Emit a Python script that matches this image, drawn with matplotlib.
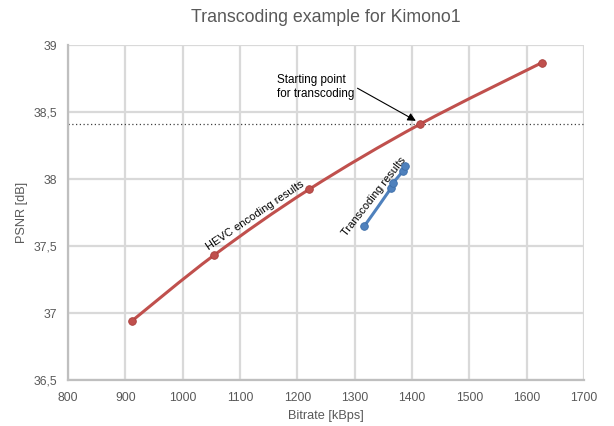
import numpy as np
import matplotlib.pyplot as plt
from matplotlib.path import Path
from matplotlib.patches import PathPatch
from matplotlib.ticker import FuncFormatter, MultipleLocator

plt.rcParams['font.family'] = ['Liberation Sans', 'DejaVu Sans']

# HEVC encoding points (bitrate kBps, PSNR dB)
hevc_rate = [911, 1054, 1221, 1414, 1627]
hevc_psnr = [36.94, 37.43, 37.925, 38.41, 38.87]

# Transcoding points
trans_rate = [1317, 1363, 1367, 1384, 1388]
trans_psnr = [37.65, 37.93, 37.97, 38.06, 38.10]

start_psnr = 38.41

red = '#c0504d'
blue = '#4f81bd'
gray = '#595959'


def smooth_path(xs, ys, t=1/6):
    # Excel-like smoothed line: Catmull-Rom segments as cubic Bezier
    pts = np.column_stack([xs, ys]).astype(float)
    verts = [pts[0]]
    codes = [Path.MOVETO]
    n = len(pts)
    for i in range(n - 1):
        p0 = pts[max(i - 1, 0)]
        p1 = pts[i]
        p2 = pts[i + 1]
        p3 = pts[min(i + 2, n - 1)]
        c1 = p1 + (p2 - p0) * t
        c2 = p2 - (p3 - p1) * t
        verts += [c1, c2, p2]
        codes += [Path.CURVE4] * 3
    return Path(verts, codes)


fig = plt.figure(figsize=(6.14, 4.26), dpi=100)
ax = fig.add_axes([0.111, 0.108, 0.84, 0.786])

ax.axhline(start_psnr, color='#404040', linestyle=(0, (1, 2)), linewidth=0.9, zorder=2)

ax.add_patch(PathPatch(smooth_path(hevc_rate, hevc_psnr), facecolor='none',
                       edgecolor=red, linewidth=2.2, zorder=3))
ax.plot(hevc_rate, hevc_psnr, 'o', color=red, markersize=5.5,
        markeredgecolor='#a83f3c', markeredgewidth=0.6, zorder=4)

ax.add_patch(PathPatch(smooth_path(trans_rate, trans_psnr), facecolor='none',
                       edgecolor=blue, linewidth=2.2, zorder=3))
ax.plot(trans_rate, trans_psnr, 'o', color=blue, markersize=5.5,
        markeredgecolor='#3c6da8', markeredgewidth=0.6, zorder=4)

ax.set_xlim(800, 1700)
ax.set_ylim(36.5, 39)
ax.xaxis.set_major_locator(MultipleLocator(100))
ax.yaxis.set_major_locator(MultipleLocator(0.5))
ax.yaxis.set_major_formatter(FuncFormatter(lambda v, p: f'{v:g}'.replace('.', ',')))

ax.grid(True, color='#d9d9d9', linewidth=1.6, zorder=0)
ax.set_axisbelow(True)
for s in ['top', 'right']:
    ax.spines[s].set_visible(False)
for s in ['left', 'bottom']:
    ax.spines[s].set_color('#bfbfbf')
    ax.spines[s].set_linewidth(1.6)
ax.tick_params(axis='x', length=0, labelsize=8.8, labelcolor=gray, pad=9)
ax.tick_params(axis='y', length=0, labelsize=8.8, labelcolor=gray, pad=8)

ax.set_xlabel('Bitrate [kBps]', fontsize=9.2, color=gray, labelpad=4)
ax.set_ylabel('PSNR [dB]', fontsize=9.2, color=gray, labelpad=4)
ax.set_title('Transcoding example for Kimono1', fontsize=12.8, color=gray, pad=17)

ax.text(1127, 37.73, 'HEVC encoding results', fontsize=8, rotation=34,
        ha='center', va='center', rotation_mode='anchor')
ax.text(1334, 37.87, 'Transcoding results', fontsize=8, rotation=52,
        ha='center', va='center', rotation_mode='anchor')
ax.annotate('Starting point\nfor transcoding', xy=(1411, 38.425), xytext=(1165, 38.69),
            fontsize=8.4, ha='left', va='center', linespacing=1.25,
            arrowprops=dict(arrowstyle='-|>', color='black', lw=0.8,
                            mutation_scale=12, shrinkA=0, shrinkB=2,
                            relpos=(1.0, 0.5)))

fig.savefig('out.png', dpi=100)
